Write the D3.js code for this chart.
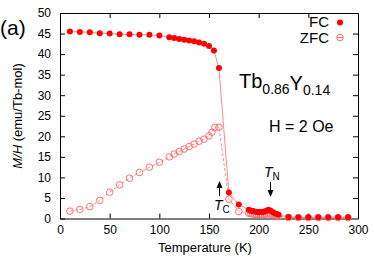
<!DOCTYPE html>
<html>
<head>
<meta charset="utf-8">
<script src="https://cdn.jsdelivr.net/npm/d3@7"></script>
<style>
  body { margin: 0; background: #fff; }
  svg text { font-family: "Liberation Sans", Arial, sans-serif; fill: #000; }
</style>
</head>
<body>
<div id="chart"></div>
<script>
// FC data (temperature K, M/H)
const fcT = [10,20,30,40,50,60,70,80,90,100,110,115,120,125,130,135,140,145,150,155,160,170,180,
  190,192,194,196,198,200,202,204,206,208,210,212,214,216,218,220,230,240,250,260,270,280,290];
const fcV = [45.5,45.4,45.3,45.1,45.0,44.8,44.8,44.7,44.7,44.5,44.1,43.9,43.7,43.5,43.3,43.1,42.8,42.5,42.0,40.9,36.6,6.3,3.4,
  2.1,1.9,1.8,1.7,1.6,1.6,1.6,1.6,1.7,1.9,2.1,1.9,1.6,1.3,1.1,0.9,0.35,0.3,0.3,0.3,0.3,0.3,0.3];

// ZFC data
const zfcT = [10,20,30,40,50,60,70,80,90,100,110,115,120,125,130,135,140,145,150,153,156,160,170,180,
  190,192,194,196,198,200,202,204,206,208,210,212,214,216,218,220,230,240,250,260,270,280,290];
const zfcV = [1.8,2.2,2.9,4.4,6.4,8.2,9.8,11.2,12.5,13.7,15.0,15.7,16.3,16.9,17.5,18.1,18.8,19.3,20.1,21.0,22.2,22.2,4.7,1.7,
  1.3,1.2,1.1,1.0,1.0,0.9,0.9,0.9,1.0,1.1,1.2,1.1,0.9,0.8,0.7,0.6,0.25,0.2,0.2,0.2,0.2,0.2,0.2];

const xTicks = [0,50,100,150,200,250,300];
const yTicks = [0,5,10,15,20,25,30,35,40,45,50];

const W = 374, H = 262;
const svg = d3.select("#chart").append("svg").attr("width", W).attr("height", H);

const x = d3.scaleLinear().domain([0, 300]).range([60, 358]);
const y = d3.scaleLinear().domain([0, 50]).range([218.5, 13]);

// axes with inward ticks, mirrored
const axB = svg.append("g").attr("transform", `translate(0,${y(0)})`)
  .call(d3.axisBottom(x).tickValues(xTicks).tickSizeInner(-5).tickSizeOuter(0).tickPadding(7));
const axT = svg.append("g").attr("transform", `translate(0,${y(50)})`)
  .call(d3.axisTop(x).tickValues(xTicks.slice(1, -1)).tickSizeInner(-5).tickSizeOuter(0).tickFormat(""));
const axL = svg.append("g").attr("transform", `translate(${x(0)},0)`)
  .call(d3.axisLeft(y).tickValues(yTicks).tickSizeInner(-5).tickSizeOuter(0).tickPadding(9));
const axR = svg.append("g").attr("transform", `translate(${x(300)},0)`)
  .call(d3.axisRight(y).tickValues(yTicks.slice(1, -1)).tickSizeInner(-5).tickSizeOuter(0).tickFormat(""));

[axB, axT, axL, axR].forEach(g => {
  g.select(".domain").attr("stroke", "#000");
  g.selectAll(".tick line").attr("stroke", "#000");
  g.selectAll("text").style("font-size", "12px").attr("fill", "#000");
});

// ZFC line + points
const zfc = zfcT.map((t, i) => [t, zfcV[i]]);
const fc = fcT.map((t, i) => [t, fcV[i]]);
const line = d3.line().x(d => x(d[0])).y(d => y(d[1]));

svg.append("path").datum(zfc).attr("d", line)
  .attr("fill", "none").attr("stroke", "#ff8a8a").attr("stroke-width", 1).attr("stroke-dasharray", "3,2");
svg.selectAll(".zfc").data(zfc).enter().append("circle")
  .attr("cx", d => x(d[0])).attr("cy", d => y(d[1])).attr("r", 3.3)
  .attr("fill", "none").attr("stroke", "#ff7070").attr("stroke-width", 1);

svg.append("path").datum(fc).attr("d", line)
  .attr("fill", "none").attr("stroke", "#ff8a8a").attr("stroke-width", 1);
svg.selectAll(".fc").data(fc).enter().append("circle")
  .attr("cx", d => x(d[0])).attr("cy", d => y(d[1])).attr("r", 3)
  .attr("fill", "#ff0000");

// legend
svg.append("text").attr("x", 329).attr("y", 27).attr("text-anchor", "end").style("font-size", "15px").text("FC");
svg.append("circle").attr("cx", 340).attr("cy", 22.5).attr("r", 3).attr("fill", "#ff0000");
svg.append("text").attr("x", 329).attr("y", 42.5).attr("text-anchor", "end").style("font-size", "15px").text("ZFC");
svg.append("circle").attr("cx", 340).attr("cy", 37.5).attr("r", 3.3).attr("fill", "none").attr("stroke", "#ff7070");
svg.append("line").attr("x1", 337).attr("x2", 343).attr("y1", 37.5).attr("y2", 37.5).attr("stroke", "#ff7070");

// composition and field
const comp = svg.append("text").attr("x", 239).attr("y", 88).style("font-size", "20px");
comp.append("tspan").text("Tb");
comp.append("tspan").attr("dy", 6).style("font-size", "14px").text("0.86");
comp.append("tspan").attr("dy", -4).text("Y");
comp.append("tspan").attr("dy", 5).style("font-size", "14px").text("0.14");

svg.append("text").attr("x", 269).attr("y", 131.5).style("font-size", "16px").text("H = 2 Oe");

// T_C, T_N annotations
const tc = svg.append("text").attr("x", 214).attr("y", 210).style("font-size", "14px");
tc.append("tspan").style("font-style", "italic").text("T");
tc.append("tspan").attr("dy", 3).style("font-size", "10px").text("C");
const tn = svg.append("text").attr("x", 264).attr("y", 177).style("font-size", "14px");
tn.append("tspan").style("font-style", "italic").text("T");
tn.append("tspan").attr("dy", 3).style("font-size", "10px").text("N");

svg.append("line").attr("x1", 219.5).attr("x2", 219.5).attr("y1", 196).attr("y2", 186).attr("stroke", "#000");
svg.append("path").attr("d", "M216.5,188 L219.5,181 L222.5,188 Z").attr("fill", "#000");
svg.append("line").attr("x1", 270.5).attr("x2", 270.5).attr("y1", 182).attr("y2", 192).attr("stroke", "#000");
svg.append("path").attr("d", "M267.5,190 L270.5,197 L273.5,190 Z").attr("fill", "#000");

// axis titles
svg.append("text").attr("x", 205).attr("y", 252).attr("text-anchor", "middle").style("font-size", "13px")
  .text("Temperature (K)");
const yl = svg.append("text").attr("transform", "translate(22,116) rotate(-90)").attr("text-anchor", "middle")
  .style("font-size", "13px");
yl.append("tspan").style("font-style", "italic").text("M/H");
yl.append("tspan").text(" (emu/Tb-mol)");

// panel label
svg.append("text").attr("x", 0).attr("y", 35).style("font-size", "21px").text("(a)");
</script>
</body>
</html>
